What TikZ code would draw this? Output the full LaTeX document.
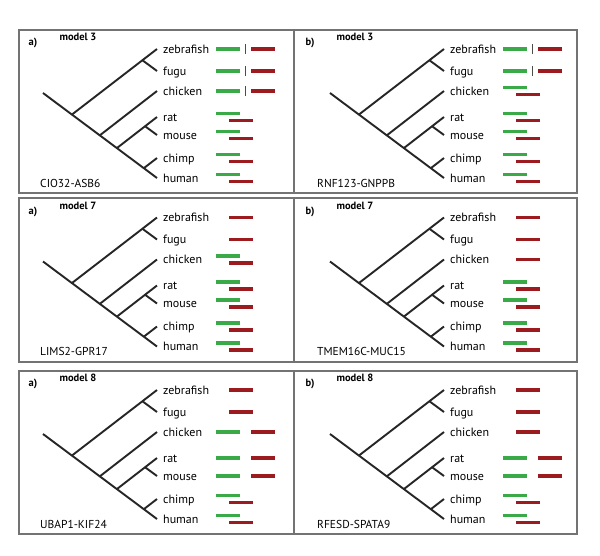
\documentclass[tikz,border=0pt]{standalone}
\usepackage{fontspec}
\setmainfont{PT Sans}
\definecolor{bargreen}{RGB}{58,170,72}
\definecolor{barred}{RGB}{155,27,30}
\tikzset{
  branch/.style={line width=1.9pt,black!85},
  species/.style={anchor=base west,inner sep=0pt,font=\fontsize{12}{14}\selectfont},
  gbar/.style={bargreen,line width=3.3pt},
  rbar/.style={barred,line width=3.3pt},
  sepline/.style={black!70,line width=1pt},
  frame/.style={black!55,line width=1.1pt},
  tag/.style={inner sep=0pt,font=\fontsize{10.5}{12}\selectfont\bfseries},
  gene/.style={anchor=west,inner sep=0pt,font=\fontsize{11.5}{13}\selectfont}
}
% bar kinds: S separated, T staggered, R red only, A apart
\newcommand\barS[1]{\draw[gbar](216,#1)--(240,#1);\draw[sepline](245,#1-5)--(245,#1+5);\draw[rbar](251,#1)--(275,#1);}
\newcommand\barT[1]{\draw[gbar](216,#1-3.6)--(240,#1-3.6);\draw[rbar](229,#1+3.6)--(253,#1+3.6);}
\newcommand\barR[1]{\draw[rbar](229,#1)--(253,#1);}
\newcommand\barA[1]{\draw[gbar](216,#1)--(240,#1);\draw[rbar](251,#1)--(275,#1);}
\newcommand\panel[7]{%
\begin{scope}[shift={(#1,#2)}]
\node[tag](let) at (33+#3,43){#4};
\node[tag](mdl) at (78+#3,37){#5};
\node[gene](gn) at (40+#3,183){#6};
\coordinate (root) at (43,93);
\foreach \nm/\lab/\y in {zf/zebrafish/49,fg/fugu/71,ck/chicken/91,rt/rat/117,ms/mouse/135,cp/chimp/158,hu/human/178}
  {\coordinate (t\nm) at (157,\y);\node[species](l\nm) at (163,\y+4.2){\lab};}
\coordinate (n1) at (72,114.5);\coordinate (n2) at (100,135.2);\coordinate (n3) at (117,148);
\coordinate (fs) at (142.5,60.3);\coordinate (rs) at (145,126.2);\coordinate (ps) at (143.8,168.2);
\draw[branch](root)--(thu);
\draw[branch](n1)--(tzf);\draw[branch](fs)--(tfg);
\draw[branch](n2)--(tck);
\draw[branch](n3)--(trt);\draw[branch](rs)--(tms);
\draw[branch](ps)--(tcp);
\foreach \kind [count=\i from 0] in {#7}
  {\pgfmathsetmacro\yy{{49,71,91,117,135,158,178}[\i]}\csname bar\kind\endcsname{\yy}}
\end{scope}}

\begin{document}
\begin{tikzpicture}[x=1pt,y=-1pt]
\useasboundingbox (0,0) rectangle (600,555);
\fill[white](0,0) rectangle (600,555);
\foreach \ya/\yb in {30/193,198/362,371/534}{\draw[frame](19,\ya) rectangle (577,\yb);\draw[frame](294,\ya)--(294,\yb);}
\panel{0}{0}{0}{a)}{model 3}{CIO32-ASB6}{S,S,S,T,T,T,T}
\panel{287}{0}{-10}{b)}{model 3}{RNF123-GNPPB}{S,S,T,T,T,T,T}
\panel{0}{168.5}{0}{a)}{model 7}{LIMS2-GPR17}{R,R,T,T,T,T,T}
\panel{287}{168.5}{-10}{b)}{model 7}{TMEM16C-MUC15}{R,R,R,T,T,T,T}
\panel{0}{341}{0}{a)}{model 8}{UBAP1-KIF24}{R,R,A,A,A,T,T}
\panel{287}{341}{-10}{b)}{model 8}{RFESD-SPATA9}{R,R,R,A,A,T,T}
\end{tikzpicture}
\end{document}
